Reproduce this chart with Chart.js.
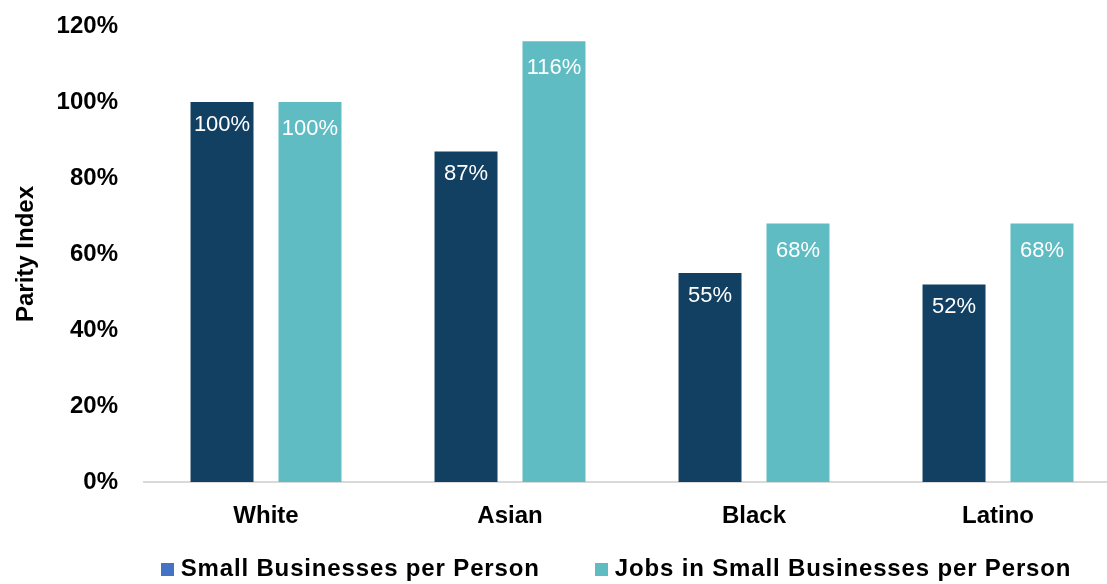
<!DOCTYPE html>
<html>
<head>
<meta charset="utf-8">
<script src="https://cdn.jsdelivr.net/npm/chart.js@4.4.1/dist/chart.umd.min.js"></script>
<style>
    html, body { margin: 0; padding: 0; background: #fff; overflow: hidden; }
    #wrap { position: relative; width: 1107px; height: 584px; overflow: hidden; }
    #box { position: absolute; left: 0; top: 0; width: 1120px; height: 584px; }
    #legend {
        position: absolute; top: 554px; left: 0; width: 1232px;
        display: flex; justify-content: center; gap: 55px;
        font-family: "Liberation Sans", Arial, sans-serif; font-weight: bold; font-size: 24px; color: #000;
        letter-spacing: 0.85px;
    }
    #legend span.item { display: flex; align-items: center; }
    #legend i { display: inline-block; width: 13px; height: 13px; margin-right: 7px; margin-top: 3px; }
</style>
</head>
<body>
<div id="wrap">
    <div id="box"><canvas id="myChart"></canvas></div>
    <div id="legend"></div>
</div>
<script>
// dados do gráfico
const categorias = ['White', 'Asian', 'Black', 'Latino'];
const nomesSeries = ['Small Businesses per Person', 'Jobs in Small Businesses per Person'];
const negociosPorPessoa = [100, 87, 55, 52];
const empregosPorPessoa = [100, 116, 68, 68];
const ticksY = [0, 20, 40, 60, 80, 100, 120];

const corEscura = '#124062';
const corTeal = '#5FBCC3';
const coresLegenda = ['#4472C4', corTeal];

// legenda em HTML
const legend = document.getElementById('legend');
nomesSeries.forEach(function(nome, i) {
    const item = document.createElement('span');
    item.className = 'item';
    const quad = document.createElement('i');
    quad.style.background = coresLegenda[i];
    item.appendChild(quad);
    item.appendChild(document.createTextNode(nome));
    legend.appendChild(item);
});

// rótulos brancos dentro das barras
const rotulosBarras = {
    id: 'rotulosBarras',
    afterDatasetsDraw: function(chart) {
        const ctx = chart.ctx;
        ctx.save();
        ctx.font = '22px "Liberation Sans", Arial, sans-serif';
        ctx.fillStyle = '#fff';
        ctx.textAlign = 'center';
        ctx.textBaseline = 'middle';
        chart.data.datasets.forEach(function(ds, i) {
            const meta = chart.getDatasetMeta(i);
            const desloc = i === 0 ? 23 : 27;
            meta.data.forEach(function(bar, j) {
                ctx.fillText(ds.data[j] + '%', bar.x, bar.y + desloc);
            });
        });
        ctx.restore();
    }
};

const ctx = document.getElementById('myChart').getContext('2d');
new Chart(ctx, {
    type: 'bar',
    data: {
        labels: categorias,
        datasets: [{
            label: nomesSeries[0],
            backgroundColor: corEscura,
            data: negociosPorPessoa
        }, {
            label: nomesSeries[1],
            backgroundColor: corTeal,
            data: empregosPorPessoa
        }]
    },
    options: {
        responsive: true,
        maintainAspectRatio: false,
        animation: false,
        devicePixelRatio: 1,
        layout: { padding: { top: 26, bottom: 52, left: 0, right: 0 } },
        datasets: {
            bar: { barPercentage: 0.716, categoryPercentage: 0.721 }
        },
        plugins: {
            legend: { display: false },
            tooltip: { enabled: false }
        },
        scales: {
            x: {
                grid: { display: false, drawTicks: false },
                border: { display: true, color: '#D9D9D9', width: 2 },
                ticks: {
                    padding: 20,
                    color: '#000',
                    font: { family: '"Liberation Sans", Arial, sans-serif', size: 24, weight: 'bold' }
                },
                afterFit: function(scale) { scale.height = 50; }
            },
            y: {
                min: 0,
                max: 120,
                afterBuildTicks: function(scale) {
                    scale.ticks = ticksY.map(function(v) { return { value: v }; });
                },
                grid: { display: false, drawTicks: false },
                border: { display: false },
                ticks: {
                    padding: 26,
                    color: '#000',
                    font: { family: '"Liberation Sans", Arial, sans-serif', size: 24, weight: 'bold' },
                    callback: function(v) { return v + '%'; }
                },
                title: {
                    display: true,
                    text: 'Parity Index',
                    color: '#000',
                    padding: { top: 12, bottom: 0 },
                    font: { family: '"Liberation Sans", Arial, sans-serif', size: 24, weight: 'bold' }
                },
                afterFit: function(scale) {
                    scale.width = 144;
                    scale.paddingTop = 0;
                    scale.paddingBottom = 0;
                }
            }
        }
    },
    plugins: [rotulosBarras]
});
</script>
</body>
</html>
